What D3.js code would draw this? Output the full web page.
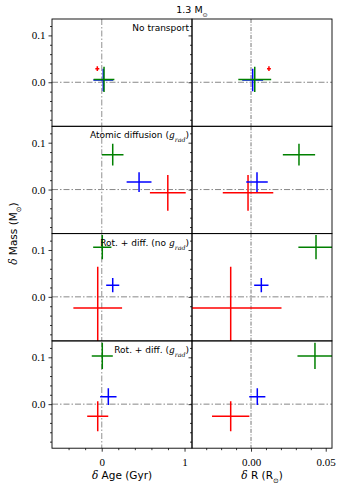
<!DOCTYPE html>
<html>
<head>
<meta charset="utf-8">
<script src="https://cdn.jsdelivr.net/npm/d3@7"></script>
<style>
body { margin: 0; background: #fff; }
text { font-family: "DejaVu Sans", sans-serif; fill: #000; }
.tick text { font-family: "Liberation Serif", serif; font-size: 11px; }
.tick line { stroke: #000; stroke-width: 0.8; }
</style>
</head>
<body>
<svg id="chart" width="343" height="490"></svg>
<script>
// panel labels, one per row (parts: text, italic, subscript)
let panelLabels = [
	[["No transport"]],
	[["Atomic diffusion ("], ["g", 1], ["rad", 1, 1], [")"]],
	[["Rot. + diff. (no "], ["g", 1], ["rad", 1, 1], [")"]],
	[["Rot. + diff. ("], ["g", 1], ["rad", 1, 1], [")"]]
]
let seriesNames = ["red", "blue", "green"]

// one value per panel row
let ageRed = [-0.053, 0.798, -0.048, -0.048]
let ageRedErr = [0.024, 0.216, 0.294, 0.127]
let massRed = [0.029, -0.007, -0.024, -0.026]
let massRedErr = [0.005, 0.038, 0.088, 0.032]
let radRed = [0.012, -0.002, -0.0136, -0.0136]
let radRedErr = [0.0013, 0.0169, 0.034, 0.0125]

let ageBlue = [0.019, 0.451, 0.133, 0.08]
let ageBlueErr = [0.12, 0.15, 0.079, 0.099]
let massBlue = [0.005, 0.016, 0.025, 0.016]
let massBlueErr = [0.024, 0.021, 0.015, 0.018]
let radBlue = [0.0011, 0.004, 0.0069, 0.0042]
let radBlueErr = [0.007, 0.0072, 0.0048, 0.0054]

let ageGreen = [0.028, 0.133, 0.007, 0.007]
let ageGreenErr = [0.125, 0.13, 0.11, 0.127]
let massGreen = [0.006, 0.0745, 0.106, 0.103]
let massGreenErr = [0.027, 0.023, 0.026, 0.028]
let radGreen = [0.0025, 0.0321, 0.0435, 0.0428]
let radGreenErr = [0.011, 0.0108, 0.0118, 0.0117]

let ageMajor = [0, 1]
let ageMinor = [-0.4, -0.2, 0.2, 0.4, 0.6, 0.8]
let radMajor = [0, 0.05]
let radMinor = [-0.03, -0.02, -0.01, 0.01, 0.02, 0.03, 0.04]
let massMajor = [0, 0.1]
let massMinor = [-0.08, -0.06, -0.04, -0.02, 0.02, 0.04, 0.06, 0.08, 0.12]

let colors = { red: "#ff0000", blue: "#0000ff", green: "#008000" }

let series = [
	{ name: "red", age: ageRed, ageErr: ageRedErr, mass: massRed, massErr: massRedErr, rad: radRed, radErr: radRedErr },
	{ name: "blue", age: ageBlue, ageErr: ageBlueErr, mass: massBlue, massErr: massBlueErr, rad: radBlue, radErr: radBlueErr },
	{ name: "green", age: ageGreen, ageErr: ageGreenErr, mass: massGreen, massErr: massGreenErr, rad: radGreen, radErr: radGreenErr }
]

let svg = d3.select('#chart')
let marginLeft = 52, marginTop = 19, pw = 140, ph = 107.3

let xAge = d3.scaleLinear().domain([-0.6, 1.09]).range([0, pw])
let xRad = d3.scaleLinear().domain([-0.0395, 0.0542]).range([0, pw])
let y = d3.scaleLinear().domain([-0.094, 0.135]).range([ph, 0])

let cols = [
	{ x: xAge, key: "age", major: ageMajor, minor: ageMinor, fmt: d3.format("d") },
	{ x: xRad, key: "rad", major: radMajor, minor: radMinor, fmt: d3.format(".2f") }
]

let addText = (sel, parts) => {
	parts.forEach(p => {
		let t = sel.append('tspan').text(p[0])
		if (p[1]) t.style('font-family', '"DejaVu Serif", serif').style('font-style', 'italic')
		if (p[2]) t.attr('font-size', '0.7em').attr('baseline-shift', 'sub')
	})
}

let dash = "6,2,1.5,2"

panelLabels.forEach((label, r) => {
	cols.forEach((col, c) => {
		let g = svg.append('g').attr('transform', 'translate(' + [marginLeft + c * pw, marginTop + r * ph] + ')')
		let id = 'clip' + r + c
		g.append('clipPath').attr('id', id).append('rect').attr('width', pw).attr('height', ph)
		let plot = g.append('g').attr('clip-path', 'url(#' + id + ')')

		// zero lines
		plot.append('line').attr('x1', 0).attr('x2', pw).attr('y1', y(0)).attr('y2', y(0))
			.attr('stroke', '#888').attr('stroke-width', 1).attr('stroke-dasharray', dash)
		plot.append('line').attr('x1', col.x(0)).attr('x2', col.x(0)).attr('y1', 0).attr('y2', ph)
			.attr('stroke', c == 0 ? '#aaa' : '#555').attr('stroke-width', c == 0 ? 1.3 : 0.8)
			.attr('stroke-dasharray', c == 0 ? dash : "4,1.5,1,1.5")

		// error bars
		series.forEach(s => {
			let cx = col.x(s[col.key][r]), cy = y(s.mass[r])
			let ex = s[col.key + 'Err'][r], ey = s.massErr[r]
			plot.append('line').attr('x1', col.x(s[col.key][r] - ex)).attr('x2', col.x(s[col.key][r] + ex))
				.attr('y1', cy).attr('y2', cy).attr('stroke', colors[s.name]).attr('stroke-width', 1.5)
			plot.append('line').attr('x1', cx).attr('x2', cx)
				.attr('y1', y(s.mass[r] - ey)).attr('y2', y(s.mass[r] + ey)).attr('stroke', colors[s.name]).attr('stroke-width', 1.5)
		})

		// y ticks
		let ya = g.append('g').call(d3.axisLeft(y).tickValues(massMajor).tickSize(3.5)
			.tickFormat(c == 0 ? d3.format(".1f") : ''))
		ya.select('.domain').remove()
		let ym = g.append('g').call(d3.axisLeft(y).tickValues(massMinor).tickSize(2).tickFormat(''))
		ym.select('.domain').remove()

		if (r == panelLabels.length - 1) {
			let xa = g.append('g').attr('transform', 'translate(0,' + ph + ')')
				.call(d3.axisBottom(col.x).tickValues(col.major).tickSize(3.5).tickFormat(col.fmt))
			xa.select('.domain').remove()
			xa.selectAll('text').attr('dy', '1.0em')
			let xm = g.append('g').attr('transform', 'translate(0,' + ph + ')')
				.call(d3.axisBottom(col.x).tickValues(col.minor).tickSize(2).tickFormat(''))
			xm.select('.domain').remove()
		}

		g.append('rect').attr('width', pw).attr('height', ph)
			.attr('fill', 'none').attr('stroke', '#000').attr('stroke-width', 0.9)

		if (c == 0) {
			let t = g.append('text').attr('x', pw - 3).attr('y', 12).attr('text-anchor', 'end')
				.attr('font-size', 9)
			addText(t, label)
		}
	})
})

// title and axis labels
let title = svg.append('text').attr('x', marginLeft + pw).attr('y', 13).attr('text-anchor', 'middle').attr('font-size', 9.5)
title.append('tspan').text('1.3 M')
title.append('tspan').text('⊙').attr('font-size', '0.65em').attr('baseline-shift', 'sub')

let xl1 = svg.append('text').attr('x', marginLeft + pw / 2).attr('y', 479).attr('text-anchor', 'middle').attr('font-size', 10.5)
xl1.append('tspan').text('δ').style('font-family', '"DejaVu Serif", serif').style('font-style', 'italic')
xl1.append('tspan').text(' Age (Gyr)')

let xl2 = svg.append('text').attr('x', marginLeft + pw * 1.5).attr('y', 479).attr('text-anchor', 'middle').attr('font-size', 10.5)
xl2.append('tspan').text('δ').style('font-family', '"DejaVu Serif", serif').style('font-style', 'italic')
xl2.append('tspan').text(' R (R')
xl2.append('tspan').text('⊙').attr('font-size', '0.65em').attr('baseline-shift', 'sub')
xl2.append('tspan').text(')')

let yl = svg.append('text').attr('transform', 'translate(17,' + (marginTop + 2 * ph) + ') rotate(-90)')
	.attr('text-anchor', 'middle').attr('font-size', 10.5)
yl.append('tspan').text('δ').style('font-family', '"DejaVu Serif", serif').style('font-style', 'italic')
yl.append('tspan').text(' Mass (M')
yl.append('tspan').text('⊙').attr('font-size', '0.65em').attr('baseline-shift', 'sub')
yl.append('tspan').text(')')
</script>
</body>
</html>
